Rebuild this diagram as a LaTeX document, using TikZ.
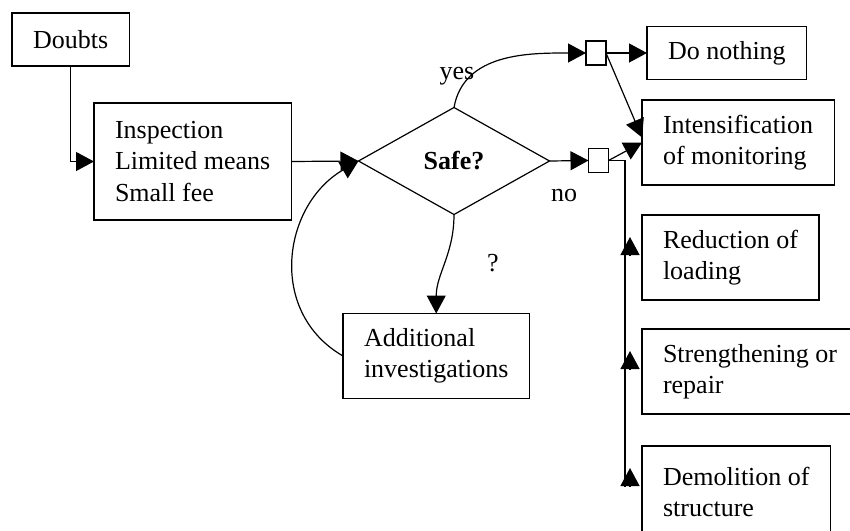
\documentclass[tikz,border=0pt]{standalone}
\usepackage{fontspec}
\setmainfont{Liberation Serif}
\usetikzlibrary{arrows.meta, positioning, shapes.geometric}

\begin{document}
\begin{tikzpicture}[
    x=1pt, y=1pt,
    >={Triangle[length=18pt, width=19pt]},
    line width=1.2pt,
    box/.style={
      draw, rectangle, align=left,
      inner xsep=21pt, inner ysep=0pt, outer sep=0pt,
      minimum height=85pt,
      font=\fontsize{26}{31.5}\selectfont},
    decision/.style={
      draw, diamond, inner sep=0pt, outer sep=0pt,
      minimum width=191pt, minimum height=107pt,
      font=\fontsize{26}{31.5}\selectfont\bfseries},
    junction/.style={
      draw, rectangle, inner sep=0pt, outer sep=0pt,
      minimum width=20pt, minimum height=24pt},
    arr/.style={->},
    lbl/.style={font=\fontsize{26}{31.5}\selectfont},
  ]
  \useasboundingbox (0,0) rectangle (850,-530);

  % -- check and decision --
  \node[box, minimum height=53pt, anchor=west] (doubts) at (12,-39.5) {Doubts};
  \node[box, minimum height=117pt, anchor=west] (insp) at (94,-161.5)
    {Inspection\\Limited means\\Small fee};
  \node[decision] (safe) at (454,-161) {Safe?};
  \node[box, anchor=west] (addinv) at (343,-356)
    {Additional\\investigations};

  \draw[arr] (doubts.south) |- (insp.west);
  \draw[arr] (insp.east) -- (safe.west);
  \draw[arr] (safe.south) to[out=-90, in=90] (addinv.north);
  \draw[arr] (addinv.west) to[out=150, in=210, looseness=1.15] (safe.west);

  % -- junctions --
  \node[junction] (sq1) at (596,-53) {};
  \node[junction] (sq2) at (598.5,-160.5) {};

  \draw[arr] (safe.north) to[out=80, in=180] (sq1.west);
  \draw[arr] (safe.east) -- (sq2.west);

  \node[lbl] (yes) at (457,-76) {yes};
  \node[lbl] (no) at (564,-195) {no};
  \node[lbl] (unk) at (493,-263) {?};

  % -- measures --
  \node[box, minimum height=53pt, anchor=west] (doing) at (647,-53) {Do nothing};
  \node[box, anchor=west] (intens) at (642,-142.5)
    {Intensification\\of monitoring};
  \node[box, below right=30pt and 0pt of intens.south west] (reduct)
    {Reduction of\\loading};
  \node[box, below right=29pt and 0pt of reduct.south west] (streng)
    {\makebox[185pt][l]{Strengthening or}\\repair};
  \node[box, minimum height=92pt, below right=32pt and 0pt of streng.south west] (demol)
    {Demolition of\\structure};

  \draw[arr] (sq1.east) -- (doing.west);
  \draw[arr] (sq1.east) -- ([yshift=5pt]intens.west);
  \draw[arr] (sq2.east) -- (intens.west);

  \coordinate (trunk) at ([xshift=-17pt,yshift=-41pt]demol.north west);
  \draw (sq2.east) -| (trunk);
  \draw[arr] ([xshift=-12pt,yshift=-40pt]reduct.north west)
    -- ([xshift=-12pt,yshift=-22pt]reduct.north west);
  \draw[arr] ([xshift=-12pt,yshift=-40pt]streng.north west)
    -- ([xshift=-12pt,yshift=-22pt]streng.north west);
  \draw[arr] ([xshift=-12pt,yshift=-40pt]demol.north west)
    -- ([xshift=-12pt,yshift=-22pt]demol.north west);

\end{tikzpicture}
\end{document}
